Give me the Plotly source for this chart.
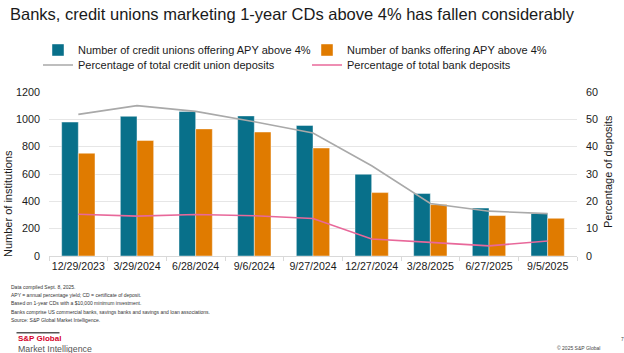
import plotly.graph_objects as go

W, H = 624, 353
ML, MR, MT, MB = 49, 47, 92, 97
PW = W - ML - MR
PH = H - MT - MB

dates = ["12/29/2023", "3/29/2024", "6/28/2024", "9/6/2024", "9/27/2024",
         "12/27/2024", "3/28/2025", "6/27/2025", "9/5/2025"]
cu_count = [980, 1022, 1057, 1025, 955, 598, 457, 351, 311]
bank_count = [752, 845, 930, 907, 790, 464, 376, 296, 276]
cu_pct = [51.8, 55.0, 52.9, 49.1, 45.0, 33.0, 19.2, 16.4, 15.5]
bank_pct = [15.3, 14.6, 15.2, 14.7, 13.7, 6.2, 5.0, 3.7, 5.5]

title_text = "Banks, credit unions marketing 1-year CDs above 4% has fallen considerably"
footnotes = [
    "Data compiled Sept. 8, 2025.",
    "APY = annual percentage yield; CD = certificate of deposit.",
    "Based on 1-year CDs with a $10,000 minimum investment.",
    "Banks comprise US commercial banks, savings banks and savings and loan associations.",
    "Source: S&P Global Market Intelligence.",
]

FONT = "Liberation Sans, Arial, sans-serif"
TEAL = "#08708A"
ORANGE = "#E07B00"
GRAY = "#A9A9A9"
PINK = "#E8689A"


def px_x(x):
    return (x - ML) / PW


def px_y(y):
    return (H - MB - y) / PH


fig = go.Figure()
fig.add_trace(go.Bar(x=dates, y=cu_count, name="Number of credit unions offering APY above 4%",
                     marker=dict(color=TEAL, line=dict(color="rgba(255,255,255,0.55)", width=0.8)),
                     legend="legend"))
fig.add_trace(go.Bar(x=dates, y=bank_count, name="Number of banks offering APY above 4%",
                     marker=dict(color=ORANGE, line=dict(color="rgba(255,255,255,0.55)", width=0.8)),
                     legend="legend"))
fig.add_trace(go.Scatter(x=dates, y=cu_pct, name="Percentage of total credit union deposits",
                         mode="lines", line=dict(color=GRAY, width=1.6), yaxis="y2",
                         legend="legend2"))
fig.add_trace(go.Scatter(x=dates, y=bank_pct, name="Percentage of total bank deposits",
                         mode="lines", line=dict(color=PINK, width=1.6), yaxis="y2",
                         legend="legend2"))

annotations = []
# axis titles
annotations.append(dict(text="Number of institutions", xref="paper", yref="paper",
                        x=px_x(8), y=px_y(204), textangle=-90, showarrow=False,
                        xanchor="center", yanchor="middle",
                        font=dict(family=FONT, size=11, color="#1a1a1a")))
annotations.append(dict(text="Percentage of deposits", xref="paper", yref="paper",
                        x=px_x(608), y=px_y(172), textangle=-90, showarrow=False,
                        xanchor="center", yanchor="middle",
                        font=dict(family=FONT, size=11, color="#1a1a1a")))
# footnotes
for i, t in enumerate(footnotes):
    annotations.append(dict(text=t, xref="paper", yref="paper", x=px_x(9),
                            y=px_y(287 + i * 8.2), showarrow=False, xanchor="left",
                            yanchor="middle", font=dict(family=FONT, size=5.0, color="#333333")))
# logo
annotations.append(dict(text="<b>S&amp;P Global</b>", xref="paper", yref="paper", x=px_x(15.5),
                        y=px_y(338.5), showarrow=False, xanchor="left", yanchor="middle",
                        font=dict(family=FONT, size=8, color="#D6002A")))
annotations.append(dict(text="Market Intelligence", xref="paper", yref="paper", x=px_x(15.5),
                        y=px_y(348.5), showarrow=False, xanchor="left", yanchor="middle",
                        font=dict(family=FONT, size=8.8, color="#555555")))
annotations.append(dict(text="© 2025 S&amp;P Global", xref="paper", yref="paper", x=px_x(555),
                        y=px_y(348.3), showarrow=False, xanchor="left", yanchor="middle",
                        font=dict(family=FONT, size=5, color="#444444")))
annotations.append(dict(text="7", xref="paper", yref="paper", x=px_x(622),
                        y=px_y(339), showarrow=False, xanchor="center", yanchor="middle",
                        font=dict(family=FONT, size=5, color="#444444")))

shapes = [dict(type="line", xref="paper", yref="paper", x0=px_x(16.5), x1=px_x(59.5),
               y0=px_y(332.7), y1=px_y(332.7), line=dict(color="#555555", width=1.5))]

fig.update_layout(
    width=W, height=H,
    margin=dict(l=ML, r=MR, t=MT, b=MB, pad=0),
    paper_bgcolor="white", plot_bgcolor="white",
    font=dict(family=FONT, size=11, color="#1a1a1a"),
    title=dict(text=title_text, xref="container", yref="container",
               x=10 / W, y=1 - 14 / H, xanchor="left", yanchor="middle",
               font=dict(family=FONT, size=16.5, color="#1a1a1a")),
    barmode="group", bargap=0.432, bargroupgap=0,
    showlegend=True,
    legend=dict(orientation="h", x=px_x(38), y=px_y(50), xanchor="left", yanchor="middle",
                entrywidth=224, entrywidthmode="pixels",
                font=dict(family=FONT, size=11, color="#1a1a1a"), bgcolor="rgba(0,0,0,0)"),
    legend2=dict(orientation="h", x=px_x(38), y=px_y(65), xanchor="left", yanchor="middle",
                 entrywidth=224, entrywidthmode="pixels",
                 font=dict(family=FONT, size=11, color="#1a1a1a"), bgcolor="rgba(0,0,0,0)"),
    xaxis=dict(type="category", showgrid=False, showline=True, linecolor="#D9D9D9", linewidth=1,
               ticks="outside", tickson="boundaries", ticklen=4, tickcolor="#D9D9D9",
               tickangle=0,
               tickfont=dict(family=FONT, size=10.6, color="#1a1a1a")),
    yaxis=dict(range=[0, 1200], dtick=200, showgrid=True, gridcolor="#E6E6E6", gridwidth=1,
               zeroline=False, showline=False, ticks="", ticklabelstandoff=8,
               tickfont=dict(family=FONT, size=10.8, color="#1a1a1a")),
    yaxis2=dict(range=[0, 60], dtick=10, overlaying="y", side="right", showgrid=False,
                zeroline=False, showline=False, ticks="", ticklabelstandoff=8,
                tickfont=dict(family=FONT, size=10.8, color="#1a1a1a")),
    annotations=annotations,
    shapes=shapes,
)

fig.write_html("out.html")
